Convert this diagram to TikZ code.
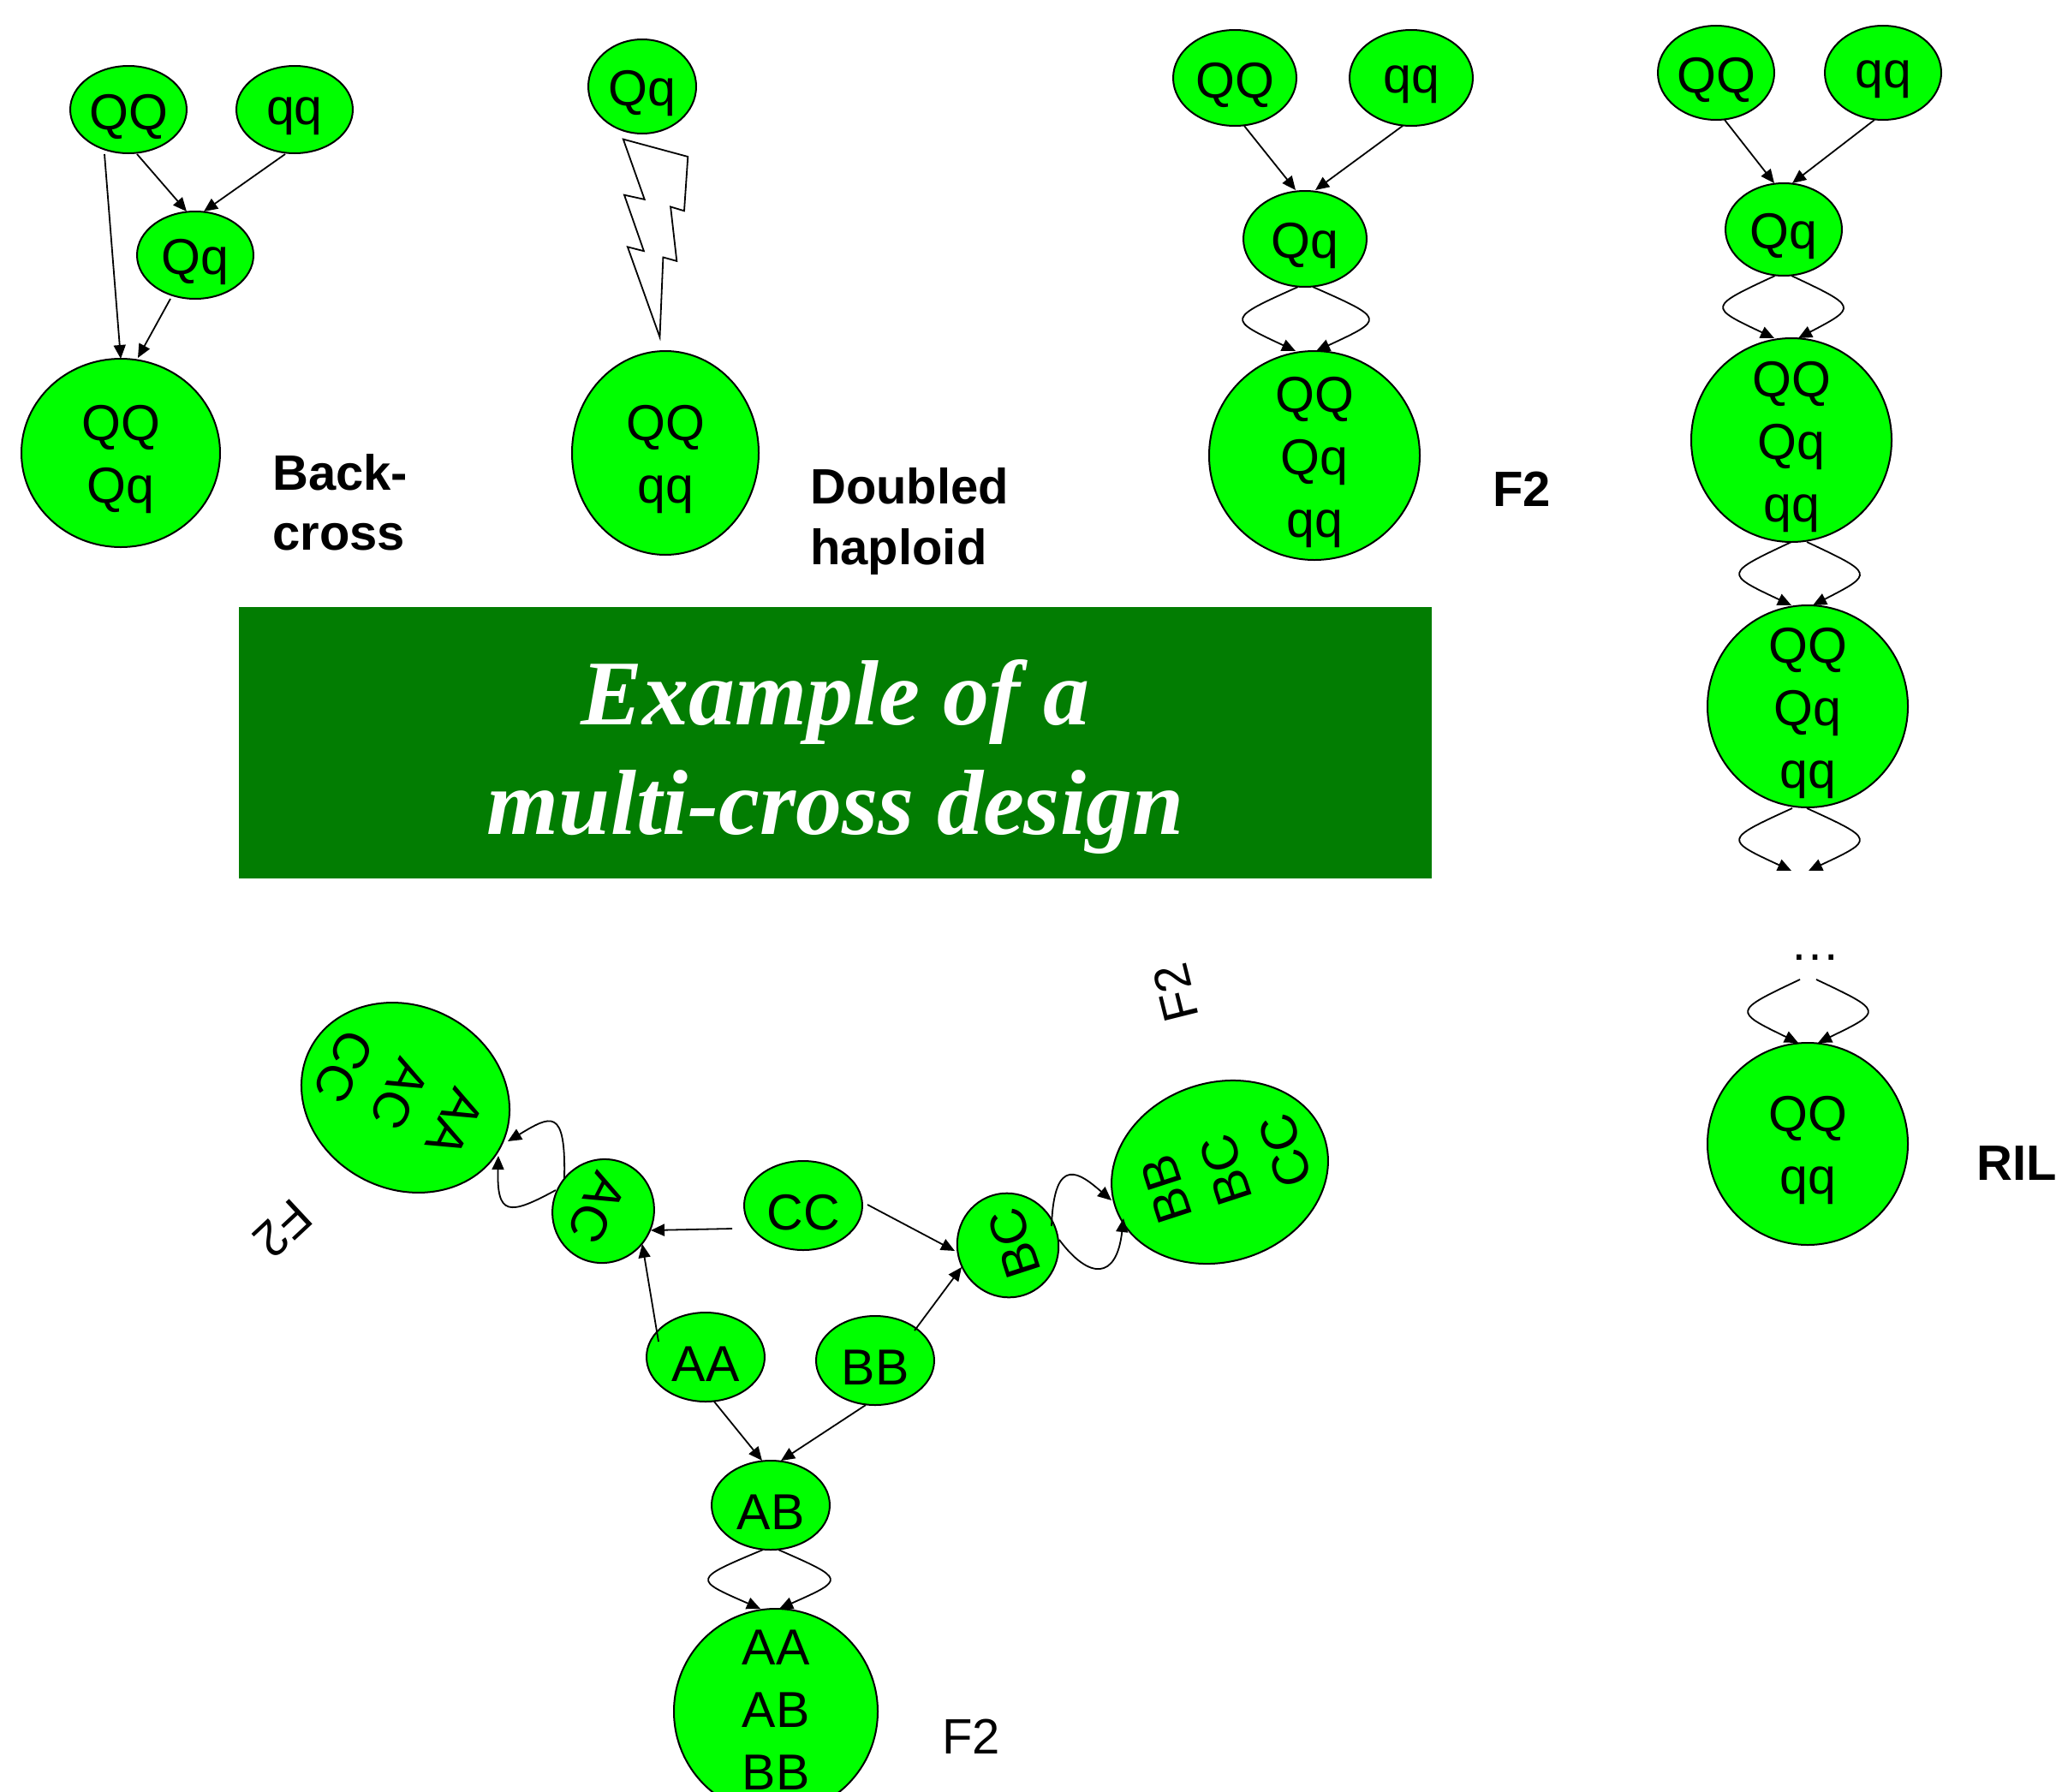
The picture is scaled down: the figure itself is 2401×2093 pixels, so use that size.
\documentclass[tikz,border=0pt]{standalone}
\usepackage{fontspec}
\setmainfont{Liberation Sans}
\newfontfamily\titlefont{Liberation Serif}
\usetikzlibrary{shapes.geometric,arrows.meta,calc}
\definecolor{ngreen}{RGB}{0,255,0}
\definecolor{tgreen}{RGB}{2,125,2}
\begin{document}
\begin{tikzpicture}[x=1pt,y=-1pt,
  g/.style={ellipse, draw=black, line width=2pt, fill=ngreen, inner sep=0pt},
  ghost/.style={ellipse, inner sep=0pt},
  t/.style={font=\fontsize{59}{73}\selectfont, align=center, inner sep=0pt, yshift=-8pt},
  lbl/.style={font=\fontsize{58}{70}\selectfont\bfseries, inner sep=0pt, anchor=base west},
  plain/.style={font=\fontsize{58}{70}\selectfont, inner sep=0pt},
  arr/.style={-{Triangle[length=16pt,width=14pt]}, line width=1.8pt},
]
\useasboundingbox (0,0) rectangle (2401,2093);
\clip (0,0) rectangle (2401,2093);
\fill[white] (0,0) rectangle (2401,2093);

% ---------- Backcross ----------
\node[g, minimum width=136pt, minimum height=102pt] (bcQQ) at (150,128) {};
\node[g, minimum width=136pt, minimum height=102pt] (bcqq) at (344,128) {};
\node[g, minimum width=136pt, minimum height=102pt] (bcQq) at (228,298) {};
\node[g, minimum width=232pt, minimum height=220pt] (bcBig) at (141,529) {};
\node[t] at (bcQQ) {QQ};
\node[t] at (bcqq) {qq};
\node[t] at (bcQq) {Qq};
\node[t] at (bcBig) {QQ\\Qq};
\node[lbl] (lbBack) at (318,572) {Back-};
\node[lbl] (lbCross) at (318,642) {cross};

% ---------- Doubled haploid ----------
\node[g, minimum width=126pt, minimum height=110pt] (dhQq) at (750,101) {};
\node[g, minimum width=218pt, minimum height=238pt] (dhBig) at (777,529) {};
\node[t] at (dhQq) {Qq};
\node[t] at (dhBig) {QQ\\qq};
\draw[line width=1.8pt, fill=white, line join=miter]
  (727.8,162.6) -- (803.3,183.0) -- (799.0,246.3) -- (783.1,241.5) --
  (790.3,304.9) -- (774.4,300.5) -- (770.5,393.8) -- (732.9,288.4) --
  (751.9,293.2) -- (729.0,227.7) -- (752.7,232.9) -- cycle;
\node[lbl] (lbDoubled) at (946,588) {Doubled};
\node[lbl] (lbHaploid) at (946,659) {haploid};

% ---------- F2 ----------
\node[g, minimum width=144pt, minimum height=112pt] (f2QQ) at (1442,91) {};
\node[g, minimum width=144pt, minimum height=112pt] (f2qq) at (1648,91) {};
\node[g, minimum width=144pt, minimum height=112pt] (f2Qq) at (1524,279) {};
\node[g, minimum width=246pt, minimum height=244pt] (f2Big) at (1535,532) {};
\node[t] at (f2QQ) {QQ};
\node[t] at (f2qq) {qq};
\node[t] at (f2Qq) {Qq};
\node[t] at (f2Big) {QQ\\Qq\\qq};
\node[lbl] (lbF2) at (1743,591) {F2};

% ---------- RIL ----------
\node[g, minimum width=136pt, minimum height=110pt] (rQQ) at (2004,85) {};
\node[g, minimum width=136pt, minimum height=110pt] (rqq) at (2199,85) {};
\node[g, minimum width=136pt, minimum height=108pt] (rQq) at (2083,268) {};
\node[g, minimum width=234pt, minimum height=238pt] (rB1) at (2092,514) {};
\node[g, minimum width=234pt, minimum height=236pt] (rB2) at (2111,825) {};
\node[ghost, minimum width=136pt, minimum height=126pt] (dots) at (2107,1080) {};
\node[g, minimum width=234pt, minimum height=236pt] (rB3) at (2111,1336) {};
\node[t] at (rQQ) {QQ};
\node[t] at (rqq) {qq};
\node[t] at (rQq) {Qq};
\node[t] at (rB1) {QQ\\Qq\\qq};
\node[t] at (rB2) {QQ\\Qq\\qq};
\node[t, anchor=base] at (2120,1113) {…};
\node[t] at (rB3) {QQ\\qq};
\node[lbl] (lbRIL) at (2308,1378) {RIL};

% ---------- Title ----------
\node[fill=tgreen, minimum width=1393pt, minimum height=317pt, inner sep=0pt] (titlebox) at (975.5,867.5) {};
\node[font=\titlefont\fontsize{108}{128}\selectfont\bfseries\itshape, text=white, align=center, inner sep=0pt] (title) at (975.5,884) {Example of a\\multi-cross design};

% ---------- Multi-cross ----------
\node[g, minimum width=138pt, minimum height=104pt] (CC) at (938,1408) {};
\node[g, minimum width=138pt, minimum height=104pt] (AA) at (824,1585) {};
\node[g, minimum width=138pt, minimum height=104pt] (BB) at (1022,1589) {};
\node[g, minimum width=138pt, minimum height=104pt] (AB) at (900,1758) {};
\node[g, minimum width=238pt, minimum height=240pt] (ABbig) at (906,1999) {};
\node[g, rotate=-117, minimum width=122pt, minimum height=118pt] (AC) at (704.5,1414.5) {};
\node[g, rotate=108, minimum width=122pt, minimum height=118pt] (BC) at (1177,1454.5) {};
\node[g, rotate=-117, minimum width=214pt, minimum height=250pt] (AACbig) at (473.5,1282) {};
\node[g, rotate=108, minimum width=209pt, minimum height=257pt] (BBCbig) at (1424.5,1369) {};
\node[t] at (CC) {CC};
\node[t] at (AA) {AA};
\node[t] at (BB) {BB};
\node[t] at (AB) {AB};
\node[t, yshift=10pt] at (ABbig) {AA\\AB\\BB};
\node[rotate=-117, t] at (AC) {AC};
\node[rotate=108, t] at (BC) {BC};
\node[rotate=-117, t] at (AACbig) {AA\\AC\\CC};
\node[rotate=108, t] at (BBCbig) {BB\\BC\\CC};
\node[plain, rotate=-137] (lbF2a) at (330.5,1435) {F2};
\node[plain, rotate=104] (lbF2b) at (1373,1160) {F2};
\node[plain, anchor=base west] (lbF2c) at (1100,2048) {F2};

% ---------- connectors ----------
% backcross
\draw[arr] ([shift={(-28,52)}]bcQQ.center) -- ([shift={(0,-110)}]bcBig.center);
\draw[arr] ([shift={(10,52)}]bcQQ.center) -- ([shift={(-10,-51)}]bcQq.center);
\draw[arr] ([shift={(-11,52)}]bcqq.center) -- ([shift={(10,-51)}]bcQq.center);
\draw[arr] ([shift={(-29,51)}]bcQq.center) -- ([shift={(20,-111)}]bcBig.center);
% F2
\draw[arr] ([shift={(11,56)}]f2QQ.center) -- ([shift={(-11,-57)}]f2Qq.center);
\draw[arr] ([shift={(-10,56)}]f2qq.center) -- ([shift={(12,-57)}]f2Qq.center);
\draw[arr] ([shift={(-8,56)}]f2Qq.center) .. controls +(-83.5,37.5) and +(-80.5,-37.5) .. ([shift={(-22,-122)}]f2Big.center);
\draw[arr] ([shift={(9,56)}]f2Qq.center) .. controls +(84.7,37.5) and +(80.7,-37.5) .. ([shift={(2,-122)}]f2Big.center);
% RIL
\draw[arr] ([shift={(10,55)}]rQQ.center) -- ([shift={(-11,-54)}]rQq.center);
\draw[arr] ([shift={(-10,55)}]rqq.center) -- ([shift={(10,-54)}]rQq.center);
\draw[arr] ([shift={(-10,54)}]rQq.center) .. controls +(-78.5,36.5) and +(-77.5,-36.5) .. ([shift={(-20,-119)}]rB1.center);
\draw[arr] ([shift={(9,54)}]rQq.center) .. controls +(77.3,36.5) and +(69.3,-36.5) .. ([shift={(8,-119)}]rB1.center);
\draw[arr] ([shift={(0,119)}]rB1.center) .. controls +(-78.7,37) and +(-78.7,-37) .. ([shift={(-19,-118)}]rB2.center);
\draw[arr] ([shift={(18,119)}]rB1.center) .. controls +(78.8,37) and +(71.8,-37) .. ([shift={(6,-118)}]rB2.center);
\draw[arr] ([shift={(-18,119)}]rB2.center) .. controls +(-79.8,36.5) and +(-78.8,-36.5) .. ([shift={(-15,-63)}]dots.center);
\draw[arr] ([shift={(-1,119)}]rB2.center) .. controls +(79.7,36.5) and +(77.7,-36.5) .. ([shift={(5,-63)}]dots.center);
\draw[arr] ([shift={(-5,64)}]dots.center) .. controls +(-78.3,37) and +(-76.3,-37) .. ([shift={(-11,-118)}]rB3.center);
\draw[arr] ([shift={(14,64)}]dots.center) .. controls +(78.3,37) and +(76.3,-37) .. ([shift={(12,-118)}]rB3.center);
% multi-cross
\draw[arr] ([shift={(10,52)}]AA.center) -- ([shift={(-10,-52)}]AB.center);
\draw[arr] ([shift={(-11,52)}]BB.center) -- ([shift={(12,-52)}]AB.center);
\draw[arr] ([shift={(-9,52)}]AB.center) .. controls +(-82.2,34.5) and +(-79.2,-34.5) .. ([shift={(-18,-120)}]ABbig.center);
\draw[arr] ([shift={(9,52)}]AB.center) .. controls +(78.5,34.5) and +(77.5,-34.5) .. ([shift={(4,-120)}]ABbig.center);
\draw[arr] ([shift={(-55,-18)}]AA.center) -- ([shift={(45.5,38.5)}]AC.center);
\draw[arr] ([shift={(-83,27)}]CC.center) -- ([shift={(55.5,22.5)}]AC.center);
\draw[arr] ([shift={(75,-1)}]CC.center) -- ([shift={(-62,6.5)}]BC.center);
\draw[arr] ([shift={(46,-35)}]BB.center) -- ([shift={(-54,25.5)}]BC.center);
\draw[arr] ([shift={(-45.5,-37.5)}]AC.center) .. controls +(2,-85) and +(50,-30) .. ([shift={(119.5,51)}]AACbig.center);
\draw[arr] ([shift={(-55.5,-24.5)}]AC.center) .. controls +(-55,30) and +(-2,70) .. ([shift={(108.5,68)}]AACbig.center);
\draw[arr] ([shift={(51,-22.5)}]BC.center) .. controls +(3,-87) and +(-35,-30) .. ([shift={(-126.5,33)}]BBCbig.center);
\draw[arr] ([shift={(60,-6.5)}]BC.center) .. controls +(35,47) and +(-8,72) .. ([shift={(-112.5,54)}]BBCbig.center);
\end{tikzpicture}
\end{document}
